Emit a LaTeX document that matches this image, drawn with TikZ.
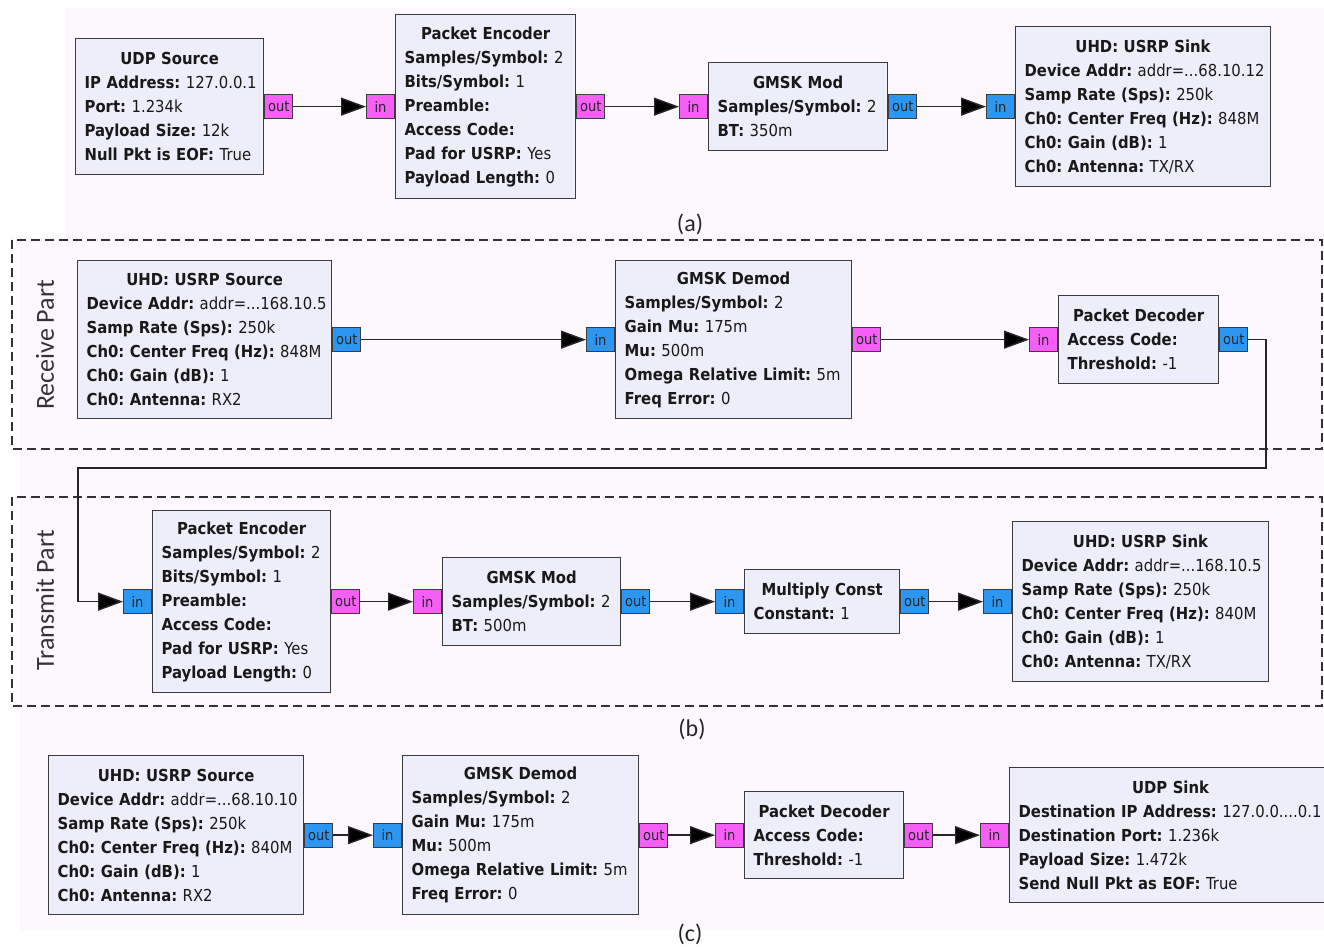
\documentclass[tikz,border=0pt]{standalone}
\usepackage{fontspec}
\newfontfamily\grcfont[FakeStretch=0.9]{DejaVu Sans}
\newfontfamily\capfont{Carlito}
\usetikzlibrary{arrows.meta,calc}
\frenchspacing
\definecolor{bgpink}{RGB}{253,248,253}
\definecolor{blkfill}{RGB}{238,238,250}
\definecolor{portmag}{RGB}{245,95,245}
\definecolor{portblue}{RGB}{45,150,240}
\definecolor{edgegray}{RGB}{60,60,60}
\newcommand\kv[2]{\mbox{\textbf{#1} #2}}
\newcommand\grcblock[7]{%
  \pgfmathsetmacro\grctw{#4-18}%
  \node[blk, minimum width=#4pt, minimum height=#5pt, text width=\grctw pt] (#1) at (#2,#3)
    {{\centering\mbox{\textbf{#6}}\par}#7};}
\tikzset{
 blk/.style={draw=edgegray, line width=1.3pt, fill=blkfill, anchor=north west,
   inner xsep=9pt, inner ysep=0pt, align=left,
   font=\grcfont\frenchspacing\fontsize{16.5}{24}\selectfont, text=black!90},
 mport/.style={draw=edgegray, line width=1pt, fill=portmag, minimum width=28pt,
   minimum height=24pt, inner sep=0pt, font=\grcfont\fontsize{14.5}{14.5}\selectfont, text=black!85},
 bport/.style={mport, fill=portblue},
 conn/.style={draw=black!85, line width=1.4pt, -{Triangle[length=25pt,width=18pt,fill=black]}},
 grp/.style={draw=black!80, line width=1.2pt, dash pattern=on 9pt off 5pt},
 caplbl/.style={font=\capfont\fontsize{24}{24}\selectfont, text=black!85},
 partlbl/.style={font=\capfont\fontsize{26}{26}\selectfont, text=black!80, rotate=90},
}
\begin{document}
\begin{tikzpicture}[x=1pt,y=-1pt]
\useasboundingbox (0,0) rectangle (1324,946);
\fill[white] (0,0) rectangle (1324,946);
\fill[bgpink] (65,8) rectangle (1324,238);
\fill[bgpink] (20,238) rectangle (1324,930);

% ---------------- (a)
\grcblock{a1}{75}{38}{188}{136}{UDP Source}{%
 \kv{IP Address:}{127.0.0.1}\\ \kv{Port:}{1.234k}\\ \kv{Payload Size:}{12k}\\ \kv{Null Pkt is EOF:}{True}}
\grcblock{a2}{395}{14}{180}{184}{Packet Encoder}{%
 \kv{Samples/Symbol:}{2}\\ \kv{Bits/Symbol:}{1}\\ \kv{Preamble:}{}\\ \kv{Access Code:}{}\\ \kv{Pad for USRP:}{Yes}\\ \kv{Payload Length:}{0}}
\grcblock{a3}{708}{62}{179}{88}{GMSK Mod}{%
 \kv{Samples/Symbol:}{2}\\ \kv{BT:}{350m}}
\grcblock{a4}{1015}{26}{255}{160}{UHD: USRP Sink}{%
 \kv{Device Addr:}{addr=...68.10.12}\\ \kv{Samp Rate (Sps):}{250k}\\ \kv{Ch0: Center Freq (Hz):}{848M}\\ \kv{Ch0: Gain (dB):}{1}\\ \kv{Ch0: Antenna:}{TX/RX}}
\node[mport, anchor=west] (a1o) at (a1.east) {out};
\node[mport, anchor=east] (a2i) at (a2.west) {in};
\node[mport, anchor=west] (a2o) at (a2.east) {out};
\node[mport, anchor=east] (a3i) at (a3.west) {in};
\node[bport, anchor=west] (a3o) at (a3.east) {out};
\node[bport, anchor=east] (a4i) at (a4.west) {in};
\draw[conn] (a1o) -- (a2i);
\draw[conn] (a2o) -- (a3i);
\draw[conn] (a3o) -- (a4i);
\node[caplbl] (capa) at (690,224) {(a)};

% ---------------- (b)
\draw[grp] (12,240) rectangle (1322,449);
\draw[grp] (12,497) rectangle (1322,706);
\node[partlbl] (rxlbl) at (45,345) {Receive Part};
\node[partlbl] (txlbl) at (45,600) {Transmit Part};

\grcblock{r1}{77}{260}{254}{158}{UHD: USRP Source}{%
 \kv{Device Addr:}{addr=...168.10.5}\\ \kv{Samp Rate (Sps):}{250k}\\ \kv{Ch0: Center Freq (Hz):}{848M}\\ \kv{Ch0: Gain (dB):}{1}\\ \kv{Ch0: Antenna:}{RX2}}
\grcblock{r2}{615}{260}{236}{158}{GMSK Demod}{%
 \kv{Samples/Symbol:}{2}\\ \kv{Gain Mu:}{175m}\\ \kv{Mu:}{500m}\\ \kv{Omega Relative Limit:}{5m}\\ \kv{Freq Error:}{0}}
\grcblock{r3}{1058}{295}{160}{88}{Packet Decoder}{%
 \kv{Access Code:}{}\\ \kv{Threshold:}{-1}}
\node[bport, anchor=west] (r1o) at (r1.east) {out};
\node[bport, anchor=east] (r2i) at (r2.west) {in};
\node[mport, anchor=west] (r2o) at (r2.east) {out};
\node[mport, anchor=east] (r3i) at (r3.west) {in};
\node[bport, anchor=west] (r3o) at (r3.east) {out};
\draw[conn] (r1o) -- (r2i);
\draw[conn] (r2o) -- (r3i);

\grcblock{t1}{152}{510}{178}{182}{Packet Encoder}{%
 \kv{Samples/Symbol:}{2}\\ \kv{Bits/Symbol:}{1}\\ \kv{Preamble:}{}\\ \kv{Access Code:}{}\\ \kv{Pad for USRP:}{Yes}\\ \kv{Payload Length:}{0}}
\grcblock{t2}{442}{557}{178}{88}{GMSK Mod}{%
 \kv{Samples/Symbol:}{2}\\ \kv{BT:}{500m}}
\grcblock{t3}{744}{569}{155}{64}{Multiply Const}{%
 \kv{Constant:}{1}}
\grcblock{t4}{1012}{521}{256}{160}{UHD: USRP Sink}{%
 \kv{Device Addr:}{addr=...168.10.5}\\ \kv{Samp Rate (Sps):}{250k}\\ \kv{Ch0: Center Freq (Hz):}{840M}\\ \kv{Ch0: Gain (dB):}{1}\\ \kv{Ch0: Antenna:}{TX/RX}}
\node[bport, anchor=east] (t1i) at (t1.west) {in};
\node[mport, anchor=west] (t1o) at (t1.east) {out};
\node[mport, anchor=east] (t2i) at (t2.west) {in};
\node[bport, anchor=west] (t2o) at (t2.east) {out};
\node[bport, anchor=east] (t3i) at (t3.west) {in};
\node[bport, anchor=west] (t3o) at (t3.east) {out};
\node[bport, anchor=east] (t4i) at (t4.west) {in};
\draw[conn] (t1o) -- (t2i);
\draw[conn] (t2o) -- (t3i);
\draw[conn] (t3o) -- (t4i);

\coordinate (fb1) at (1266,468);
\coordinate (fb2) at (78,468);
\draw[conn] (r3o.east) -| (fb1) -- (fb2) |- (t1i.west);
\node[caplbl] (capb) at (692,729) {(b)};

% ---------------- (c)
\grcblock{c1}{48}{755}{255}{159}{UHD: USRP Source}{%
 \kv{Device Addr:}{addr=...68.10.10}\\ \kv{Samp Rate (Sps):}{250k}\\ \kv{Ch0: Center Freq (Hz):}{840M}\\ \kv{Ch0: Gain (dB):}{1}\\ \kv{Ch0: Antenna:}{RX2}}
\grcblock{c2}{402}{755}{236}{159}{GMSK Demod}{%
 \kv{Samples/Symbol:}{2}\\ \kv{Gain Mu:}{175m}\\ \kv{Mu:}{500m}\\ \kv{Omega Relative Limit:}{5m}\\ \kv{Freq Error:}{0}}
\grcblock{c3}{744}{791}{159}{87}{Packet Decoder}{%
 \kv{Access Code:}{}\\ \kv{Threshold:}{-1}}
\grcblock{c4}{1009}{767}{322}{135}{UDP Sink}{%
 \kv{Destination IP Address:}{127.0.0....0.1}\\ \kv{Destination Port:}{1.236k}\\ \kv{Payload Size:}{1.472k}\\ \kv{Send Null Pkt as EOF:}{True}}
\node[bport, anchor=west] (c1o) at (c1.east) {out};
\node[bport, anchor=east] (c2i) at (c2.west) {in};
\node[mport, anchor=west] (c2o) at (c2.east) {out};
\node[mport, anchor=east] (c3i) at (c3.west) {in};
\node[mport, anchor=west] (c3o) at (c3.east) {out};
\node[mport, anchor=east] (c4i) at (c4.west) {in};
\draw[conn] (c1o) -- (c2i);
\draw[conn] (c2o) -- (c3i);
\draw[conn] (c3o) -- (c4i);
\node[caplbl] (capc) at (690,934) {(c)};
\end{tikzpicture}
\end{document}
